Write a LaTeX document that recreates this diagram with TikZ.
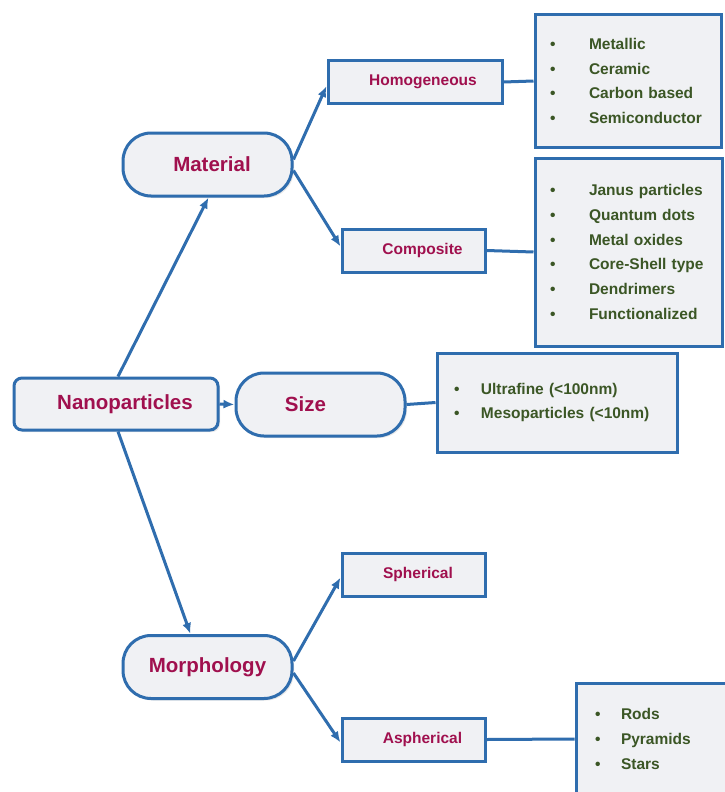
\documentclass[tikz,border=0pt]{standalone}
\usepackage{fontspec}
\setmainfont{Liberation Sans}
\usetikzlibrary{arrows.meta,calc,shadows}
\definecolor{bord}{HTML}{2F6DAE}
\definecolor{boxfill}{HTML}{F0F1F4}
\definecolor{titlec}{HTML}{A0104E}
\definecolor{itemc}{HTML}{3B5625}
\newcommand{\itm}[2]{\makebox[#1][l]{\textbullet}#2}
\begin{document}
\begin{tikzpicture}[x=1pt,y=-1pt,
  box/.style={draw=bord, line width=3pt, fill=boxfill, inner sep=0pt,
    drop shadow={opacity=0.18,shadow xshift=2pt,shadow yshift=-2pt}},
  pill/.style={box, rounded corners=28pt, minimum width=169pt, minimum height=63pt,
    font=\bfseries\fontsize{20.5}{24}\selectfont, text=titlec},
  sub/.style={box, minimum width=143pt, minimum height=43pt,
    font=\bfseries\fontsize{15.5}{18}\selectfont, text=titlec},
  list/.style={box, align=left, font=\bfseries\fontsize{15.5}{24.7}\selectfont, text=itemc},
  arr/.style={draw=bord, line width=3pt, -{Latex[length=11pt,width=9pt]}},
  lnk/.style={draw=bord, line width=3pt}]
\fill[white] (0,0) rectangle (724,792);
\useasboundingbox (0,0) rectangle (724,792);

\node[box, rounded corners=8pt, minimum width=204pt, minimum height=52pt,
  font=\bfseries\fontsize{20.5}{24}\selectfont, text=titlec] (np) at (116,404) {\hspace*{18pt}Nanoparticles};
\node[pill] (mat) at (207.5,164.5) {\hspace*{9pt}Material};
\node[pill] (size) at (320.5,404.5) {Size\hspace*{30pt}};
\node[pill] (mor) at (207.5,667) {Morphology};

\node[sub, minimum width=174pt, minimum height=42pt] (hom) at (415,82) {\hspace*{16pt}Homogeneous};
\node[sub] (comp) at (413.5,250.5) {\hspace*{18pt}Composite};
\node[sub] (sph) at (413.5,574.5) {\hspace*{9pt}Spherical};
\node[sub] (asph) at (413.5,739.5) {\hspace*{18pt}Aspherical};

\node[list, minimum height=132pt, inner xsep=15pt, text width=156pt] (l1) at (628,81)
  {\itm{39pt}{Metallic}\\\itm{39pt}{Ceramic}\\\itm{39pt}{Carbon based}\\\itm{39pt}{Semiconductor}};
\node[list, minimum height=188pt, inner xsep=15pt, text width=157pt] (l2) at (628.5,252)
  {\itm{39pt}{Janus particles}\\\itm{39pt}{Quantum dots}\\\itm{39pt}{Metal oxides}\\\itm{39pt}{Core-Shell type}\\\itm{39pt}{Dendrimers}\\\itm{39pt}{Functionalized}};
\node[list, minimum height=99pt, inner xsep=17pt, text width=206pt] (l3) at (557,402.5)
  {\itm{27pt}{Ultrafine (<100nm)}\\\itm{27pt}{Mesoparticles (<10nm)}};
\node[list, minimum height=112pt, inner xsep=19pt, text width=112pt] (l4) at (651,739)
  {\itm{26pt}{Rods}\\\itm{26pt}{Pyramids}\\\itm{26pt}{Stars}};

\draw[arr] ($(np.north)+(2,0)$) -- ($(mat.south)+(1,0)$);
\draw[arr] ($(np.south)+(2,0)$) -- ($(mor.north)+(-17,0)$);
\draw[arr] (np.east) -- (size.west);
\draw[arr] ($(mat.east)+(0,-5)$) -- ($(hom.west)+(0,4)$);
\draw[arr] ($(mat.east)+(0,6)$) -- ($(comp.west)+(0,-4)$);
\draw[arr] ($(mor.east)+(0,-6)$) -- ($(sph.west)+(0,3)$);
\draw[arr] ($(mor.east)+(0,6)$) -- ($(asph.west)+(0,3)$);

\draw[lnk] (hom.east) -- (l1.west);
\draw[lnk] (comp.east) -- (l2.west);
\draw[lnk] (size.east) -- (l3.west);
\draw[lnk] (asph.east) -- (l4.west);
\end{tikzpicture}
\end{document}
